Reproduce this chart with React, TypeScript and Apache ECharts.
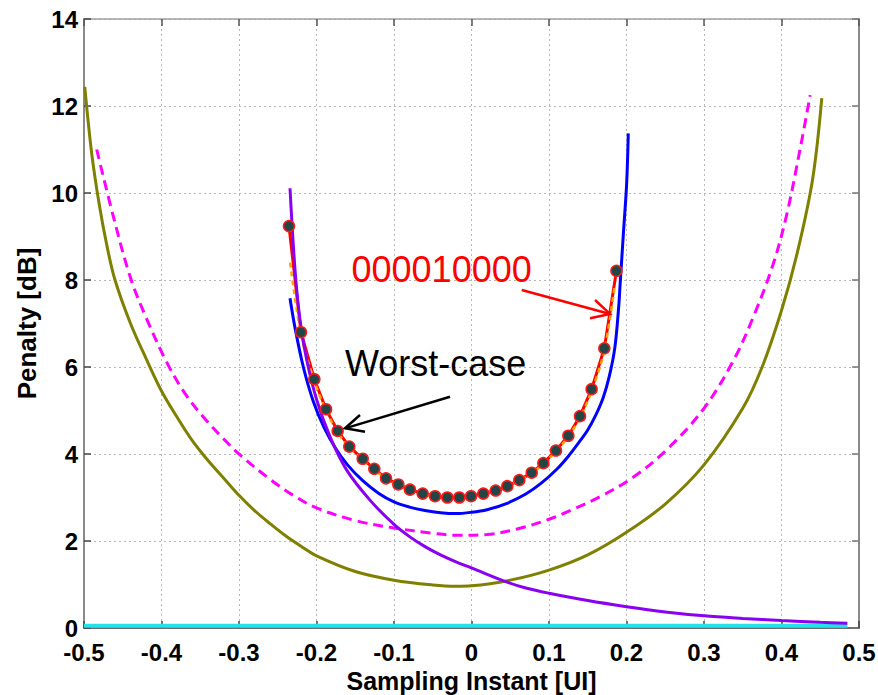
import React, { useEffect, useRef } from "react";
import * as echarts from "echarts";

// Axis ticks
const xTicks = [-0.5, -0.4, -0.3, -0.2, -0.1, 0, 0.1, 0.2, 0.3, 0.4, 0.5];
const yTicks = [0, 2, 4, 6, 8, 10, 12, 14];

// Olive curve
const oliveX = [-0.499, -0.49, -0.48, -0.47, -0.46, -0.44, -0.42, -0.4, -0.38, -0.36, -0.34, -0.32, -0.3, -0.28, -0.26, -0.24, -0.22, -0.2, -0.15, -0.1, -0.05, -0.02, 0, 0.05, 0.1, 0.15, 0.2, 0.25, 0.3, 0.35, 0.375, 0.4, 0.42, 0.44, 0.452];
const oliveY = [12.44, 10.9, 9.7, 8.75, 8.0, 7.0, 6.2, 5.45, 4.85, 4.3, 3.85, 3.45, 3.05, 2.7, 2.4, 2.12, 1.88, 1.66, 1.3, 1.1, 0.99, 0.96, 0.97, 1.1, 1.33, 1.68, 2.2, 2.85, 3.75, 5.05, 6.0, 7.3, 8.6, 10.3, 12.18];

// Magenta dashed curve
const magentaX = [-0.4836, -0.462, -0.44, -0.419, -0.393, -0.37, -0.346, -0.32, -0.3, -0.26, -0.23, -0.2, -0.15, -0.1, -0.05, -0.02, 0.02, 0.06, 0.1, 0.13, 0.166, 0.209, 0.252, 0.3, 0.338, 0.3636, 0.389, 0.4067, 0.4239, 0.437];
const magentaY = [11.0, 9.45, 8.05, 7.1, 6.1, 5.4, 4.85, 4.35, 4.0, 3.42, 3.05, 2.76, 2.47, 2.3, 2.18, 2.13, 2.15, 2.28, 2.5, 2.72, 3.02, 3.47, 4.1, 5.05, 6.15, 7.15, 8.35, 9.5, 11.0, 12.25];

// Blue curve
const blueX = [-0.2342, -0.2277, -0.217, -0.204, -0.19, -0.175, -0.16, -0.14, -0.12, -0.1, -0.08, -0.06, -0.04, -0.02, 0.0, 0.02, 0.045, 0.07, 0.09, 0.11, 0.125, 0.14, 0.15, 0.16, 0.17, 0.178, 0.185, 0.19, 0.1916, 0.196, 0.2002, 0.2023];
const blueY = [7.58, 6.9, 6.0, 5.2, 4.6, 4.12, 3.75, 3.38, 3.1, 2.9, 2.78, 2.7, 2.65, 2.63, 2.66, 2.72, 2.86, 3.08, 3.33, 3.65, 3.95, 4.3, 4.55, 4.88, 5.3, 5.8, 6.45, 7.4, 7.85, 9.07, 10.22, 11.37];

// Purple curve
const purpleX = [-0.2342, -0.2277, -0.2213, -0.2126, -0.1997, -0.1826, -0.161, -0.131, -0.1, -0.08, -0.06, -0.04, -0.02, 0.0, 0.045, 0.07, 0.1, 0.15, 0.2, 0.25, 0.3, 0.35, 0.4, 0.45, 0.485];
const purpleY = [10.11, 8.23, 7.08, 6.16, 5.24, 4.4, 3.63, 2.94, 2.38, 2.1, 1.87, 1.68, 1.52, 1.38, 1.06, 0.92, 0.8, 0.63, 0.49, 0.37, 0.28, 0.22, 0.17, 0.13, 0.11];

// Cyan baseline
const cyanX = [-0.5, 0.485];
const cyanY = [0.05, 0.05];

// 000010000 pattern (markers, red line)
const patX = [-0.2355, -0.22, -0.2028, -0.1877, -0.1727, -0.1577, -0.1404, -0.1254, -0.1103, -0.0944, -0.0794, -0.063, -0.047, -0.0312, -0.0157, -0.0006, 0.0152, 0.0312, 0.0462, 0.0617, 0.0777, 0.0927, 0.109, 0.125, 0.14, 0.155, 0.1714, 0.187];
const patY = [9.24, 6.8, 5.72, 5.03, 4.53, 4.17, 3.89, 3.66, 3.44, 3.3, 3.18, 3.09, 3.03, 3.0, 3.0, 3.03, 3.09, 3.16, 3.26, 3.4, 3.57, 3.79, 4.08, 4.42, 4.87, 5.49, 6.43, 8.21];

// Worst-case (orange dashed)
const worstX = [-0.234, -0.22, -0.2028, -0.1877, -0.1727, -0.1577, -0.1404, -0.1254, -0.1103, -0.0944, -0.0794, -0.063, -0.047, -0.0312, -0.0157, -0.0006, 0.0152, 0.0312, 0.0462, 0.0617, 0.0777, 0.0927, 0.109, 0.125, 0.14, 0.155, 0.1714, 0.185];
const worstY = [8.4, 6.75, 5.68, 5.0, 4.5, 4.15, 3.87, 3.64, 3.43, 3.29, 3.17, 3.08, 3.02, 2.99, 2.99, 3.02, 3.08, 3.15, 3.25, 3.39, 3.56, 3.78, 4.06, 4.4, 4.84, 5.45, 6.38, 7.9];

// Annotations (data coordinates)
const labelPattern = { text: "000010000", x: -0.1548, y: 8.23 };
const labelWorst = { text: "Worst-case", x: -0.1632, y: 6.07 };
const arrowRed = { from: [0.0648, 7.77], to: [0.1787, 7.22], h1: [0.1594, 7.54], h2: [0.1529, 7.12] };
const arrowBlack = { from: [-0.0277, 5.317], to: [-0.1632, 4.59], h1: [-0.1439, 4.897], h2: [-0.1374, 4.51] };

const zip = (xs: number[], ys: number[]) => xs.map((x, i) => [x, ys[i]]);

const FONT = "'Liberation Sans', Arial, sans-serif";

export default function App() {
  const ref = useRef<HTMLDivElement>(null);
  useEffect(() => {
    if (!ref.current) return;
    const chart = echarts.init(ref.current, undefined, { renderer: "svg" });
    const fmt = (v: number) => String(Math.round(v * 10) / 10);
    const lineSeries = (xs: number[], ys: number[], color: string, width: number, extra: any = {}) => ({
      type: "line",
      data: zip(xs, ys),
      showSymbol: false,
      symbol: "none",
      smooth: 0.35,
      lineStyle: { color, width, ...(extra.lineStyle || {}) },
      itemStyle: { color },
      z: extra.z ?? 2,
      silent: true,
    });
    const xMin = xTicks[0], xMax = xTicks[xTicks.length - 1];
    const yMin = yTicks[0], yMax = yTicks[yTicks.length - 1];
    chart.setOption({
      animation: false,
      grid: { left: 84, right: 19, top: 19, bottom: 67, containLabel: false, outerBoundsMode: "none" },
      xAxis: [
        {
          type: "value", min: xMin, max: xMax, interval: 0.1,
          name: "Sampling Instant [UI]", nameLocation: "middle", nameGap: 38,
          nameTextStyle: { fontFamily: FONT, fontWeight: "bold", fontSize: 25, lineHeight: 25, color: "#000" },
          axisLine: { show: true, onZero: false, lineStyle: { color: "#6e6e6e", width: 2 } },
          axisTick: { show: true, inside: true, length: 7, lineStyle: { color: "#444", width: 1.5 } },
          axisLabel: { formatter: fmt, fontFamily: FONT, fontWeight: "bold", fontSize: 24, lineHeight: 20, color: "#000", margin: 14 },
          splitLine: { show: true, lineStyle: { color: "#b8b8b8", type: [2, 3], width: 1 } },
        },
        {
          type: "value", min: xMin, max: xMax, interval: 0.1, position: "top",
          axisLine: { show: true, onZero: false, lineStyle: { color: "#a0a0a0", width: 1.5 } },
          axisTick: { show: true, inside: true, length: 7, lineStyle: { color: "#555", width: 1.5 } },
          axisLabel: { show: false }, splitLine: { show: false },
        },
      ],
      yAxis: [
        {
          type: "value", min: yMin, max: yMax, interval: 2,
          name: "Penalty [dB]", nameLocation: "middle", nameGap: 43,
          nameTextStyle: { fontFamily: FONT, fontWeight: "bold", fontSize: 26, color: "#000" },
          axisLine: { show: true, onZero: false, lineStyle: { color: "#8a8a8a", width: 2 } },
          axisTick: { show: true, inside: true, length: 7, lineStyle: { color: "#444", width: 1.5 } },
          axisLabel: { formatter: fmt, fontFamily: FONT, fontWeight: "bold", fontSize: 24, lineHeight: 18, color: "#000", margin: 6, verticalAlign: "middle" },
          splitLine: { show: true, lineStyle: { color: "#b8b8b8", type: [2, 3], width: 1 } },
        },
        {
          type: "value", min: yMin, max: yMax, interval: 2, position: "right",
          axisLine: { show: true, onZero: false, lineStyle: { color: "#8a8a8a", width: 2 } },
          axisTick: { show: true, inside: true, length: 7, lineStyle: { color: "#777", width: 1.5 } },
          axisLabel: { show: false }, splitLine: { show: false },
        },
      ],
      series: [
        lineSeries(cyanX, cyanY, "#22e3ea", 4, { z: 2 }),
        lineSeries(oliveX, oliveY, "#7f7f00", 3, { z: 3 }),
        lineSeries(magentaX, magentaY, "#ff00ff", 3, { z: 3, lineStyle: { type: [10, 6] } }),
        lineSeries(blueX, blueY, "#0000ff", 3, { z: 4 }),
        { ...lineSeries(patX, patY, "#ff0000", 3, { z: 5 }), smooth: false },
        lineSeries(worstX, worstY, "#ffa500", 2.5, { z: 6, lineStyle: { type: [5, 4] } }),
        lineSeries(purpleX, purpleY, "#8a00f0", 3, { z: 7 }),
        {
          type: "scatter",
          data: zip(patX, patY),
          symbol: "circle",
          symbolSize: 11,
          itemStyle: { color: "#234545", borderColor: "#ff1a1a", borderWidth: 1.5, opacity: 1 },
          z: 8,
          silent: true,
        },
      ],
    });

    const px = (p: number[]) => chart.convertToPixel({ gridIndex: 0 }, p) as number[];
    const arrow = (a: any, color: string) => {
      const f = px(a.from), t = px(a.to), h1 = px(a.h1), h2 = px(a.h2);
      return [
        { type: "line", shape: { x1: f[0], y1: f[1], x2: t[0], y2: t[1] }, style: { stroke: color, lineWidth: 2.5 }, z: 20 },
        { type: "polyline", shape: { points: [h1, t, h2] }, style: { stroke: color, lineWidth: 2.5, fill: null }, z: 20 },
      ];
    };
    const lp = px([labelPattern.x, labelPattern.y]);
    const lw = px([labelWorst.x, labelWorst.y]);
    chart.setOption({
      graphic: [
        { type: "text", x: lp[0], y: lp[1], z: 20, style: { text: labelPattern.text, fill: "#ff0000", font: `36px ${FONT}`, align: "left", verticalAlign: "middle" } },
        { type: "text", x: lw[0], y: lw[1], z: 20, style: { text: labelWorst.text, fill: "#000000", font: `36px ${FONT}`, align: "left", verticalAlign: "middle" } },
        ...arrow(arrowRed, "#ff0000"),
        ...arrow(arrowBlack, "#000000"),
      ],
    });
    return () => chart.dispose();
  }, []);
  return <div ref={ref} style={{ position: "fixed", left: 0, top: 0, width: 878, height: 695, background: "#fff" }} />;
}
